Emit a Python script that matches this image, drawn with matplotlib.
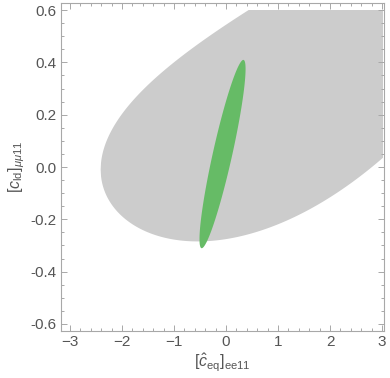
import numpy as np
import matplotlib
matplotlib.use("Agg")
import matplotlib.pyplot as plt
from matplotlib.patches import Rectangle
from matplotlib.ticker import MultipleLocator

# plot range of the scan
x_range = [-3.0, 3.0]
y_range = [-0.6, 0.6]

# grey region: bent ellipse, y = mid(x) +- half(x)
grey_xc = 1.75        # centre in x
grey_wx = 4.17        # half width in x
grey_hy = 0.452       # max half height
grey_mid = [0.1368, 0.0822, 0.0093]   # mid line coefficients c0 + c1 x + c2 x^2

# green region: ellipse
green_c = [-0.067, 0.0495]
green_sx = 0.443
green_sy = 0.36
green_rho = 0.903

xticks = [-3, -2, -1, 0, 1, 2, 3]
yticks = [-0.6, -0.4, -0.2, 0.0, 0.2, 0.4, 0.6]

plt.rcParams["font.family"] = ["Liberation Sans", "DejaVu Sans"]
plt.rcParams["mathtext.fontset"] = "custom"
plt.rcParams["mathtext.rm"] = "Liberation Sans"
plt.rcParams["mathtext.it"] = "Liberation Sans:italic"

fig = plt.figure(figsize=(3.9, 3.78), dpi=100)
ax = fig.add_axes([61/390, 47/378, 323/390, 328/378])

clip = Rectangle((x_range[0], y_range[0]), x_range[1]-x_range[0], y_range[1]-y_range[0],
                 transform=ax.transData, facecolor="none", edgecolor="none")
ax.add_patch(clip)

xs = np.linspace(grey_xc - grey_wx, x_range[1] + 0.1, 800)
mid = grey_mid[0] + grey_mid[1]*xs + grey_mid[2]*xs**2
half = grey_hy*np.sqrt(np.clip(1 - ((xs - grey_xc)/grey_wx)**2, 0, None))
g = ax.fill_between(xs, mid - half, mid + half, color="#cccccc", lw=0)
g.set_clip_path(clip)

t = np.linspace(0, 2*np.pi, 400)
cov = np.array([[green_sx**2, green_rho*green_sx*green_sy],
                [green_rho*green_sx*green_sy, green_sy**2]])
L = np.linalg.cholesky(cov)
pts = np.array(green_c)[:, None] + L @ np.vstack([np.cos(t), np.sin(t)])
ax.fill(pts[0], pts[1], color="#66bb66", lw=0)

ax.set_xlim(-3.173, 3.038)
ax.set_ylim(-0.627, 0.627)
ax.set_xticks(xticks)
ax.set_yticks(yticks)
ax.set_yticklabels(["%.1f" % v if v != 0 else "0.0" for v in yticks])
ax.xaxis.set_minor_locator(MultipleLocator(0.2))
ax.yaxis.set_minor_locator(MultipleLocator(0.05))
ax.tick_params(which="both", direction="in", top=True, right=True, color="#a8a8a8",
               labelcolor="#555555", labelsize=11, pad=3, width=0.7)
ax.tick_params(which="major", length=4)
ax.tick_params(which="minor", length=2)
for s in ax.spines.values():
    s.set_color("#a8a8a8")
    s.set_linewidth(0.8)

ax.set_xlabel(r"$[\hat{c}_{\rm eq}]_{\rm ee11}$", fontsize=11.5, color="#555555", labelpad=2)
ax.set_ylabel(r"$[c_{\rm ld}]_{\mu\mu 11}$", fontsize=11.5, color="#555555", labelpad=3)

fig.savefig("out.png", dpi=100)
